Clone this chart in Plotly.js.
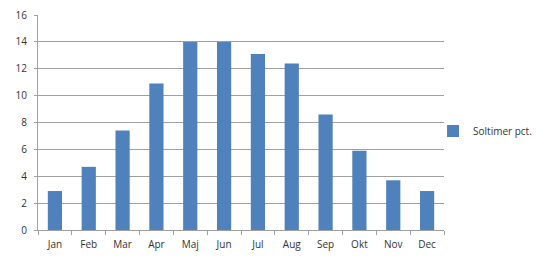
<!DOCTYPE html>
<html><head><meta charset="utf-8">
<script src="https://cdn.plot.ly/plotly-3.0.1.min.js"></script>
<style>html,body{margin:0;padding:0;background:#fff}#c{width:550px;height:263px}</style>
</head><body><div id="c"></div>
<script>
var months = ["Jan","Feb","Mar","Apr","Maj","Jun","Jul","Aug","Sep","Okt","Nov","Dec"];
var soltimer = [2.9, 4.7, 7.4, 10.9, 14.0, 14.0, 13.1, 12.4, 8.6, 5.9, 3.7, 2.9];
var yTicks = [0,2,4,6,8,10,12,14,16];

Plotly.newPlot('c', [{
  type: 'bar', x: months, y: soltimer, name: 'Soltimer pct.',
  marker: {color: '#4f81bd'}
}], {
  width: 550, height: 263,
  margin: {l: 38, r: 106, t: 15, b: 33, autoexpand: false},
  paper_bgcolor: '#fff', plot_bgcolor: '#fff',
  font: {family: 'Open Sans, Liberation Sans, sans-serif', size: 10, color: '#333'},
  bargap: 0.58,
  showlegend: true,
  legend: {x: 0.973, xanchor: 'left', y: 0.46, yanchor: 'middle', font: {size: 10},
           itemwidth: 30, bgcolor: 'rgba(0,0,0,0)'},
  xaxis: {type: 'category', showgrid: false, showline: true, linecolor: '#a0a0a0',
          ticks: 'outside', tickson: 'boundaries', ticklen: 4, tickcolor: '#a0a0a0',
          zeroline: false, ticklabelstandoff: 5},
  yaxis: {range: [0, 16], tickvals: yTicks, showgrid: true, gridcolor: '#a0a0a0',
          showline: true, linecolor: '#a0a0a0', ticks: 'outside', ticklen: 3,
          tickcolor: '#a0a0a0', zeroline: false, ticklabelstandoff: 5}
}, {displayModeBar: false});
</script></body></html>
